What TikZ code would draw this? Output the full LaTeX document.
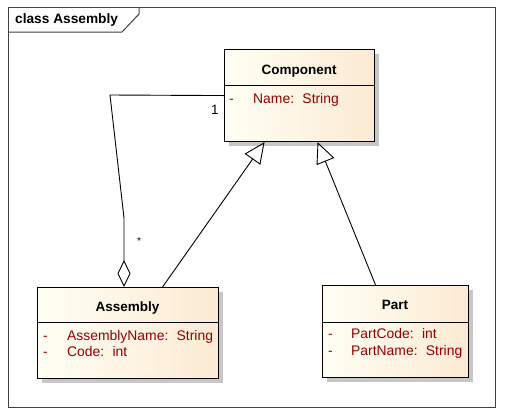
\documentclass[tikz,border=0pt]{standalone}
\usepackage{fontspec}
\setmainfont{Liberation Sans}
\usetikzlibrary{arrows.meta,shadows,calc}
\definecolor{cream}{HTML}{FFFFF4}
\definecolor{creammid}{HTML}{FFFBE9}
\definecolor{peach}{HTML}{FCEAD3}
\definecolor{attr}{RGB}{150,0,0}
\definecolor{framec}{HTML}{404040}
\tikzset{
  classbox/.style={draw=black, line width=1.1pt, anchor=north west, inner sep=0pt,
    left color=cream, middle color=creammid, right color=peach,
    drop shadow={shadow xshift=4pt, shadow yshift=-4pt, fill=black!22, opacity=1}},
  hdr/.style={font=\fontsize{13.5}{16}\selectfont\bfseries, anchor=base, inner sep=0pt},
  attrtxt/.style={font=\fontsize{13.9}{16}\selectfont, text=attr, anchor=base west, inner sep=0pt},
  divider/.style={line width=1pt, black},
  conn/.style={line width=0.9pt, black, line join=round},
  gen/.style={conn, -{Triangle[open, length=21pt, width=19pt, line width=0.9pt]}},
  agg/.style={conn, -{Diamond[open, length=27pt, width=13pt, line width=0.9pt]}},
  mult/.style={font=\fontsize{13.5}{16}\selectfont, inner sep=0pt, anchor=base}
}
\begin{document}
\begin{tikzpicture}[x=1pt, y=-1pt]
\useasboundingbox (0,0) rectangle (505,416);
\fill[white] (0,0) rectangle (505,416);
% frame
\draw[framec, line width=1pt] (8,7) rectangle (495,407);
\draw[framec, line width=1pt] (8,32) -- (122,32) -- (139,14) -- (139,7);
\node[font=\fontsize{13.7}{16}\selectfont\bfseries, anchor=base west, inner sep=0pt] (title) at (15,23) {class Assembly};
% classes
\node[classbox, minimum width=150pt, minimum height=92pt] (comp) at (224,49) {};
\node[classbox, minimum width=181pt, minimum height=91pt] (asm) at (37,287) {};
\node[classbox, minimum width=146pt, minimum height=92pt] (part) at (322,285) {};
\draw[divider] ([yshift=-36pt]comp.north west) -- ([yshift=-36pt]comp.north east);
\draw[divider] ([yshift=-35pt]asm.north west) -- ([yshift=-35pt]asm.north east);
\draw[divider] ([yshift=-37pt]part.north west) -- ([yshift=-37pt]part.north east);
% texts
\node[hdr] (comph) at (299,74) {Component};
\node[attrtxt] (compd) at (229,103) {-};
\node[attrtxt] (compa) at (253,103) {Name:\hspace{0.6em}String};
\node[hdr] (asmh) at (127.5,311) {Assembly};
\node[attrtxt] (asmd1) at (43,340) {-};
\node[attrtxt] (asma1) at (67,340) {AssemblyName:\hspace{0.6em}String};
\node[attrtxt] (asmd2) at (43,356) {-};
\node[attrtxt] (asma2) at (67,356) {Code:\hspace{0.6em}int};
\node[hdr] (parth) at (395,309) {Part};
\node[attrtxt] (partd1) at (328,338) {-};
\node[attrtxt] (parta1) at (351,338) {PartCode:\hspace{0.6em}int};
\node[attrtxt] (partd2) at (328,355) {-};
\node[attrtxt] (parta2) at (351,355) {PartName:\hspace{0.6em}String};
% connectors
\coordinate (a1) at (110,95);
\coordinate (a2) at (124,218);
\draw[agg] (comp.west) -- (a1) -- (a2) -- (a2 |- asm.north);
\draw[gen] ([xshift=34.5pt]asm.north) -- ([xshift=-35pt]comp.south);
\draw[gen] ([xshift=-20pt]part.north) -- ([xshift=18pt]comp.south);
\node[mult] (m1) at (215,114) {1};
\node[font=\fontsize{10}{10}\selectfont, inner sep=0pt] (m2) at (139,241) {*};
\end{tikzpicture}
\end{document}
